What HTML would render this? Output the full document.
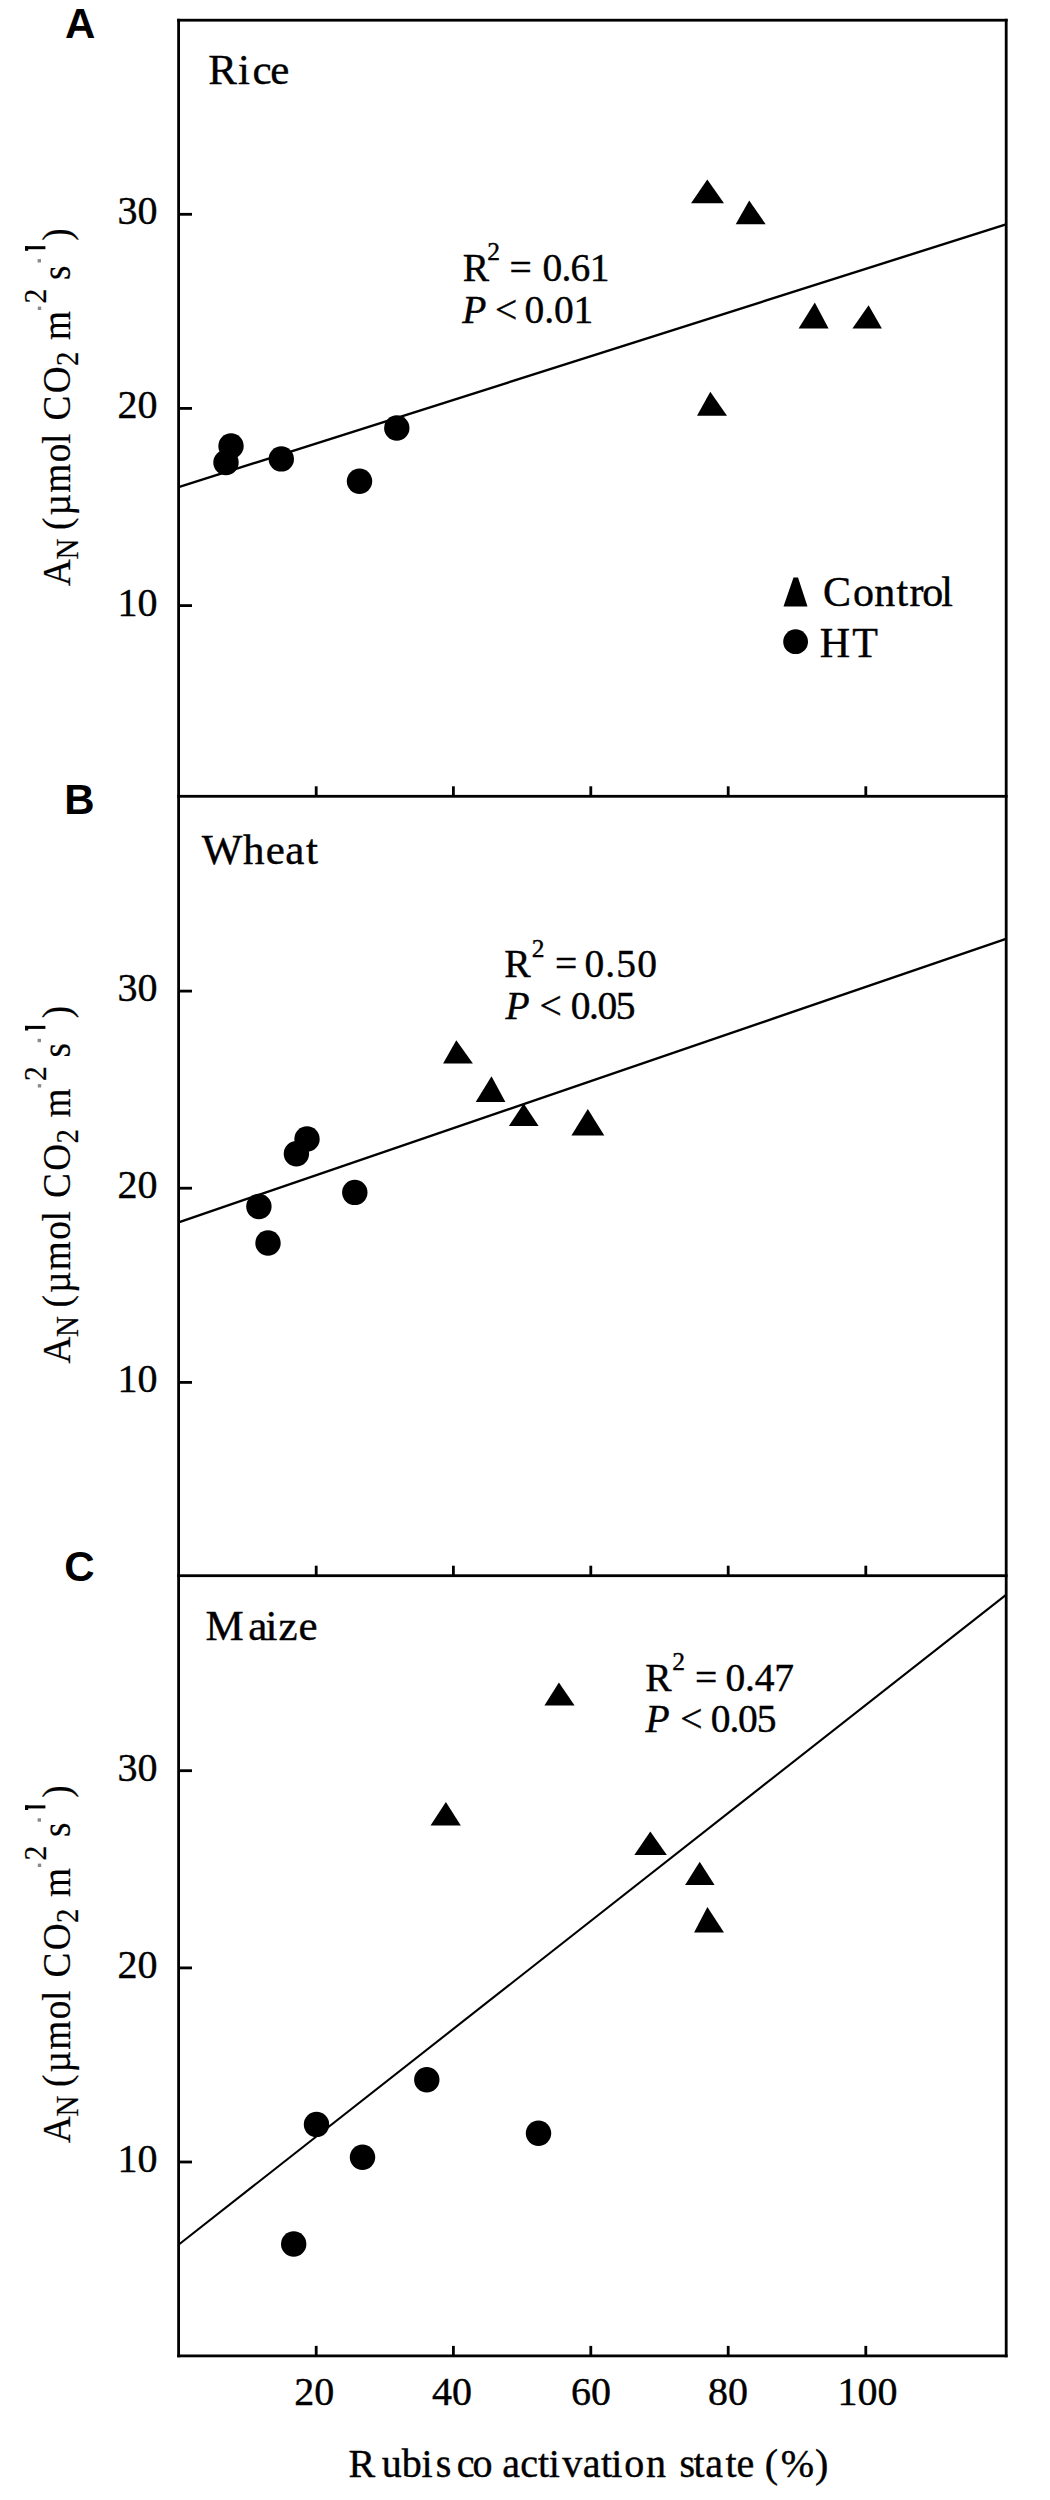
<!DOCTYPE html>
<html><head><meta charset="utf-8"><style>
html,body{margin:0;padding:0;background:#fff;width:1050px;height:2500px;overflow:hidden}
svg{display:block}
.s{font-family:"Liberation Serif",serif;fill:#000;stroke:#000;stroke-width:0.4px}
.sy{font-family:"Liberation Serif",serif;fill:#000;stroke:#000;stroke-width:0.2px}
.it{font-style:italic}
.b{font-family:"Liberation Sans",sans-serif;font-weight:bold;fill:#000}
</style></head><body>
<svg width="1050" height="2500" viewBox="0 0 1050 2500">
<g fill="#000">
<rect x="177.2" y="18.80" width="2.8" height="2338.50"/>
<rect x="1004.80" y="18.80" width="2.8" height="2338.50"/>
<rect x="177.2" y="18.80" width="830.40" height="2.8"/>
<rect x="177.2" y="794.90" width="830.40" height="2.8"/>
<rect x="177.2" y="1574.30" width="830.40" height="2.8"/>
<rect x="177.2" y="2354.50" width="830.40" height="2.8"/>
<rect x="178.2" y="212.90" width="13.80" height="2.8"/>
<rect x="178.2" y="407.00" width="13.80" height="2.8"/>
<rect x="178.2" y="604.20" width="13.80" height="2.8"/>
<rect x="314.80" y="786.30" width="2.8" height="10"/>
<rect x="452.00" y="786.30" width="2.8" height="10"/>
<rect x="589.40" y="786.30" width="2.8" height="10"/>
<rect x="726.80" y="786.30" width="2.8" height="10"/>
<rect x="864.40" y="786.30" width="2.8" height="10"/>
<rect x="178.2" y="989.70" width="13.80" height="2.8"/>
<rect x="178.2" y="1186.80" width="13.80" height="2.8"/>
<rect x="178.2" y="1381.00" width="13.80" height="2.8"/>
<rect x="314.80" y="1565.70" width="2.8" height="10"/>
<rect x="452.00" y="1565.70" width="2.8" height="10"/>
<rect x="589.40" y="1565.70" width="2.8" height="10"/>
<rect x="726.80" y="1565.70" width="2.8" height="10"/>
<rect x="864.40" y="1565.70" width="2.8" height="10"/>
<rect x="178.2" y="1769.30" width="13.80" height="2.8"/>
<rect x="178.2" y="1966.50" width="13.80" height="2.8"/>
<rect x="178.2" y="2160.60" width="13.80" height="2.8"/>
<rect x="314.80" y="2345.90" width="2.8" height="10"/>
<rect x="452.00" y="2345.90" width="2.8" height="10"/>
<rect x="589.40" y="2345.90" width="2.8" height="10"/>
<rect x="726.80" y="2345.90" width="2.8" height="10"/>
<rect x="864.40" y="2345.90" width="2.8" height="10"/>
</g>
<g stroke="#000" stroke-width="2.4" fill="none">
<line x1="178.6" y1="487.2" x2="1006" y2="224.3"/>
<line x1="178.6" y1="1222.3" x2="1006" y2="938.8"/>
<line x1="179.5" y1="2244.0" x2="1006" y2="1594.8" stroke-width="2.1"/>
</g>
<g fill="#000">
<polygon points="707.3,179.5 724,203.3 691,203.3"/>
<polygon points="749.2,200.5 765.7,224.3 735.7,224.3"/>
<polygon points="814.8,302.6 828.6,328.5 798.6,328.5"/>
<polygon points="868.6,305.3 881.9,328.5 852.4,328.5"/>
<polygon points="710.3,391.7 727,415.7 697,415.7"/>
<circle cx="231" cy="446" r="12.7"/>
<circle cx="226" cy="462.5" r="12.7"/>
<circle cx="281.3" cy="458.9" r="12.7"/>
<circle cx="359.5" cy="481.2" r="12.7"/>
<circle cx="396.8" cy="428" r="12.7"/>
<polygon points="456.3,1040.3 472.9,1063.5 443.1,1063.5"/>
<polygon points="491.5,1076.3 505.4,1102 475.7,1102"/>
<polygon points="523.7,1103.5 538.6,1126 508.9,1126"/>
<polygon points="587.8,1109.1 604.3,1135.4 571.4,1135.4"/>
<circle cx="307" cy="1139" r="12.7"/>
<circle cx="296.4" cy="1153.7" r="12.7"/>
<circle cx="258.9" cy="1206.5" r="12.7"/>
<circle cx="268" cy="1243" r="12.7"/>
<circle cx="354.8" cy="1192.4" r="12.7"/>
<polygon points="558.9,1682.6 574.6,1705.6 544.4,1705.6"/>
<polygon points="445.9,1802 460.8,1825.4 430.5,1825.4"/>
<polygon points="650.3,1831.4 666.9,1854.9 634.3,1854.9"/>
<polygon points="699.7,1861.7 714.6,1885.1 685.1,1885.1"/>
<polygon points="707.4,1906.9 724,1932.6 694.1,1932.6"/>
<circle cx="426.8" cy="2079.8" r="12.7"/>
<circle cx="316.5" cy="2124.4" r="12.7"/>
<circle cx="362.5" cy="2157.3" r="12.7"/>
<circle cx="538.5" cy="2133.3" r="12.7"/>
<circle cx="293.7" cy="2244" r="12.7"/>
<polygon points="793.5,577.5 798,577.5 807.5,606.5 783.5,606.5"/>
<circle cx="795.6" cy="641.7" r="12.4"/>
</g>
<text class="b" font-size="42" x="64.95" y="37.70">A</text>
<text class="b" font-size="42" x="64.29" y="813.50">B</text>
<text class="b" font-size="42" x="64.28" y="1581.30">C</text>
<text class="s" font-size="43" x="208.27" y="83.60">R</text>
<text class="s" font-size="43" x="237.98" y="83.60">i</text>
<text class="s" font-size="43" x="252.50" y="83.60">c</text>
<text class="s" font-size="43" x="270.16" y="83.60">e</text>
<text class="s" font-size="43" x="201.68" y="863.70">W</text>
<text class="s" font-size="43" x="243.12" y="863.70">h</text>
<text class="s" font-size="43" x="265.81" y="863.70">e</text>
<text class="s" font-size="43" x="285.30" y="863.70">a</text>
<text class="s" font-size="43" x="305.94" y="863.70">t</text>
<text class="s" font-size="43" x="205.59" y="1640.00">M</text>
<text class="s" font-size="43" x="248.35" y="1640.00">a</text>
<text class="s" font-size="43" x="265.43" y="1640.00">i</text>
<text class="s" font-size="43" x="278.58" y="1640.00">z</text>
<text class="s" font-size="43" x="298.41" y="1640.00">e</text>
<text class="s" font-size="42" x="823.09" y="606.40">C</text>
<text class="s" font-size="42" x="853.05" y="606.40">o</text>
<text class="s" font-size="42" x="874.34" y="606.40">n</text>
<text class="s" font-size="42" x="896.58" y="606.40">t</text>
<text class="s" font-size="42" x="909.57" y="606.40">r</text>
<text class="s" font-size="42" x="922.35" y="606.40">o</text>
<text class="s" font-size="42" x="941.32" y="606.40">l</text>
<text class="s" font-size="42" x="819.84" y="657.10">H</text>
<text class="s" font-size="42" x="852.14" y="657.10">T</text>
<text class="s" font-size="40" x="348.41" y="2476.70">R</text>
<text class="s" font-size="40" x="381.73" y="2476.70">u</text>
<text class="s" font-size="40" x="401.76" y="2476.70">b</text>
<text class="s" font-size="40" x="421.40" y="2476.70">i</text>
<text class="s" font-size="40" x="435.77" y="2476.70">s</text>
<text class="s" font-size="40" x="456.63" y="2476.70">c</text>
<text class="s" font-size="40" x="472.55" y="2476.70">o</text>
<text class="s" font-size="40" x="502.34" y="2476.70">a</text>
<text class="s" font-size="40" x="520.28" y="2476.70">c</text>
<text class="s" font-size="40" x="537.92" y="2476.70">t</text>
<text class="s" font-size="40" x="548.65" y="2476.70">i</text>
<text class="s" font-size="40" x="562.15" y="2476.70">v</text>
<text class="s" font-size="40" x="582.79" y="2476.70">a</text>
<text class="s" font-size="40" x="601.02" y="2476.70">t</text>
<text class="s" font-size="40" x="611.30" y="2476.70">i</text>
<text class="s" font-size="40" x="624.30" y="2476.70">o</text>
<text class="s" font-size="40" x="646.04" y="2476.70">n</text>
<text class="s" font-size="40" x="679.52" y="2476.70">s</text>
<text class="s" font-size="40" x="693.42" y="2476.70">t</text>
<text class="s" font-size="40" x="705.19" y="2476.70">a</text>
<text class="s" font-size="40" x="725.57" y="2476.70">t</text>
<text class="s" font-size="40" x="736.54" y="2476.70">e</text>
<text class="s" font-size="40" x="764.71" y="2476.70">(</text>
<text class="s" font-size="40" x="780.84" y="2476.70">%</text>
<text class="s" font-size="40" x="814.97" y="2476.70">)</text>
<text class="s" font-size="40" text-anchor="end" x="157.6" y="224.3">30</text>
<text class="s" font-size="40" text-anchor="end" x="157.6" y="418.4">20</text>
<text class="s" font-size="40" text-anchor="end" x="157.6" y="615.6">10</text>
<text class="s" font-size="40" text-anchor="end" x="157.6" y="1001.1">30</text>
<text class="s" font-size="40" text-anchor="end" x="157.6" y="1198.2">20</text>
<text class="s" font-size="40" text-anchor="end" x="157.6" y="1392.4">10</text>
<text class="s" font-size="40" text-anchor="end" x="157.6" y="1780.7">30</text>
<text class="s" font-size="40" text-anchor="end" x="157.6" y="1977.9">20</text>
<text class="s" font-size="40" text-anchor="end" x="157.6" y="2172.0">10</text>
<text class="s" font-size="40" text-anchor="middle" x="314.3" y="2404.8">20</text>
<text class="s" font-size="40" text-anchor="middle" x="452" y="2404.8">40</text>
<text class="s" font-size="40" text-anchor="middle" x="591" y="2404.8">60</text>
<text class="s" font-size="40" text-anchor="middle" x="728" y="2404.8">80</text>
<text class="s" font-size="40" text-anchor="middle" x="867.5" y="2404.8">100</text>
<text class="s" font-size="39.5" x="462.66" y="280.60">R</text>
<text class="s" font-size="25.5" x="487.17" y="260.30">2</text>
<text class="s" font-size="39.5" x="509.53" y="280.60">=</text>
<text class="s" font-size="39.5" x="542.40" y="280.60" textLength="66.98" lengthAdjust="spacing">0.61</text>
<text class="s it" font-size="39.5" x="462.31" y="322.70">P</text>
<text class="s" font-size="39.5" x="495.03" y="322.70"><</text>
<text class="s" font-size="39.5" x="524.60" y="322.70" textLength="68.68" lengthAdjust="spacing">0.01</text>
<text class="s" font-size="39.5" x="504.26" y="977.00">R</text>
<text class="s" font-size="25.5" x="531.77" y="956.70">2</text>
<text class="s" font-size="39.5" x="554.93" y="977.00">=</text>
<text class="s" font-size="39.5" x="584.50" y="977.00" textLength="72.41" lengthAdjust="spacing">0.50</text>
<text class="s it" font-size="39.5" x="505.61" y="1019.00">P</text>
<text class="s" font-size="39.5" x="539.43" y="1019.00"><</text>
<text class="s" font-size="39.5" x="570.80" y="1019.00" textLength="64.75" lengthAdjust="spacing">0.05</text>
<text class="s" font-size="39.5" x="645.16" y="1690.60">R</text>
<text class="s" font-size="25.5" x="672.37" y="1670.30">2</text>
<text class="s" font-size="39.5" x="694.93" y="1690.60">=</text>
<text class="s" font-size="39.5" x="725.40" y="1690.60" textLength="68.64" lengthAdjust="spacing">0.47</text>
<text class="s it" font-size="39.5" x="645.61" y="1732.30">P</text>
<text class="s" font-size="39.5" x="680.33" y="1732.30"><</text>
<text class="s" font-size="39.5" x="710.80" y="1732.30" textLength="65.65" lengthAdjust="spacing">0.05</text>
<text class="sy" font-size="40" transform="translate(69.50,585.98) rotate(-90) scale(0.93,1)">A</text>
<text class="sy" font-size="31" transform="translate(78.20,559.44) rotate(-90) scale(0.93,1)">N</text>
<text class="sy" font-size="40" transform="translate(69.50,529.91) rotate(-90) scale(0.93,1)">(</text>
<text class="sy" font-size="40" transform="translate(69.50,515.51) rotate(-90) scale(0.93,1)">µ</text>
<text class="sy" font-size="40" transform="translate(69.50,492.67) rotate(-90) scale(0.93,1)">m</text>
<text class="sy" font-size="40" transform="translate(69.50,462.15) rotate(-90) scale(0.93,1)">o</text>
<text class="sy" font-size="40" transform="translate(69.50,443.97) rotate(-90) scale(0.93,1)">l</text>
<text class="sy" font-size="40" transform="translate(69.50,420.49) rotate(-90) scale(0.93,1)">C</text>
<text class="sy" font-size="40" transform="translate(69.50,393.33) rotate(-90) scale(0.93,1)">O</text>
<text class="sy" font-size="31" transform="translate(78.20,366.00) rotate(-90) scale(0.93,1)">2</text>
<text class="sy" font-size="40" transform="translate(69.50,340.07) rotate(-90) scale(0.93,1)">m</text>
<text class="sy" font-size="32" transform="translate(46.00,303.47) rotate(-90) scale(0.93,1)">2</text>
<text class="sy" font-size="40" transform="translate(69.50,279.93) rotate(-90) scale(0.93,1)">s</text>
<text class="sy" font-size="40" transform="translate(69.50,240.78) rotate(-90) scale(0.93,1)">)</text>
<rect x="25" y="246.20" width="20.4" height="3" fill="#000"/>
<rect x="25" y="246.20" width="3.2" height="4.6" fill="#000"/>
<rect x="37.6" y="259.10" width="3.4" height="3.4" fill="#8a8a8a"/>
<rect x="37.8" y="306.60" width="3.4" height="3.4" fill="#8a8a8a"/>
<text class="sy" font-size="40" transform="translate(69.50,1363.48) rotate(-90) scale(0.93,1)">A</text>
<text class="sy" font-size="31" transform="translate(78.20,1336.94) rotate(-90) scale(0.93,1)">N</text>
<text class="sy" font-size="40" transform="translate(69.50,1307.41) rotate(-90) scale(0.93,1)">(</text>
<text class="sy" font-size="40" transform="translate(69.50,1293.01) rotate(-90) scale(0.93,1)">µ</text>
<text class="sy" font-size="40" transform="translate(69.50,1270.17) rotate(-90) scale(0.93,1)">m</text>
<text class="sy" font-size="40" transform="translate(69.50,1239.65) rotate(-90) scale(0.93,1)">o</text>
<text class="sy" font-size="40" transform="translate(69.50,1221.47) rotate(-90) scale(0.93,1)">l</text>
<text class="sy" font-size="40" transform="translate(69.50,1197.99) rotate(-90) scale(0.93,1)">C</text>
<text class="sy" font-size="40" transform="translate(69.50,1170.83) rotate(-90) scale(0.93,1)">O</text>
<text class="sy" font-size="31" transform="translate(78.20,1143.50) rotate(-90) scale(0.93,1)">2</text>
<text class="sy" font-size="40" transform="translate(69.50,1117.57) rotate(-90) scale(0.93,1)">m</text>
<text class="sy" font-size="32" transform="translate(46.00,1080.97) rotate(-90) scale(0.93,1)">2</text>
<text class="sy" font-size="40" transform="translate(69.50,1057.43) rotate(-90) scale(0.93,1)">s</text>
<text class="sy" font-size="40" transform="translate(69.50,1018.28) rotate(-90) scale(0.93,1)">)</text>
<rect x="25" y="1025.90" width="20.4" height="3" fill="#000"/>
<rect x="25" y="1025.90" width="3.2" height="4.6" fill="#000"/>
<rect x="37.6" y="1038.80" width="3.4" height="3.4" fill="#8a8a8a"/>
<rect x="37.8" y="1084.10" width="3.4" height="3.4" fill="#8a8a8a"/>
<text class="sy" font-size="40" transform="translate(69.50,2142.98) rotate(-90) scale(0.93,1)">A</text>
<text class="sy" font-size="31" transform="translate(78.20,2116.44) rotate(-90) scale(0.93,1)">N</text>
<text class="sy" font-size="40" transform="translate(69.50,2086.91) rotate(-90) scale(0.93,1)">(</text>
<text class="sy" font-size="40" transform="translate(69.50,2072.51) rotate(-90) scale(0.93,1)">µ</text>
<text class="sy" font-size="40" transform="translate(69.50,2049.67) rotate(-90) scale(0.93,1)">m</text>
<text class="sy" font-size="40" transform="translate(69.50,2019.15) rotate(-90) scale(0.93,1)">o</text>
<text class="sy" font-size="40" transform="translate(69.50,2000.97) rotate(-90) scale(0.93,1)">l</text>
<text class="sy" font-size="40" transform="translate(69.50,1977.49) rotate(-90) scale(0.93,1)">C</text>
<text class="sy" font-size="40" transform="translate(69.50,1950.33) rotate(-90) scale(0.93,1)">O</text>
<text class="sy" font-size="31" transform="translate(78.20,1923.00) rotate(-90) scale(0.93,1)">2</text>
<text class="sy" font-size="40" transform="translate(69.50,1897.07) rotate(-90) scale(0.93,1)">m</text>
<text class="sy" font-size="32" transform="translate(46.00,1860.47) rotate(-90) scale(0.93,1)">2</text>
<text class="sy" font-size="40" transform="translate(69.50,1836.93) rotate(-90) scale(0.93,1)">s</text>
<text class="sy" font-size="40" transform="translate(69.50,1797.78) rotate(-90) scale(0.93,1)">)</text>
<rect x="25" y="1805.40" width="20.4" height="3" fill="#000"/>
<rect x="25" y="1805.40" width="3.2" height="4.6" fill="#000"/>
<rect x="37.6" y="1818.30" width="3.4" height="3.4" fill="#8a8a8a"/>
<rect x="37.8" y="1863.60" width="3.4" height="3.4" fill="#8a8a8a"/>
</svg></body></html>
